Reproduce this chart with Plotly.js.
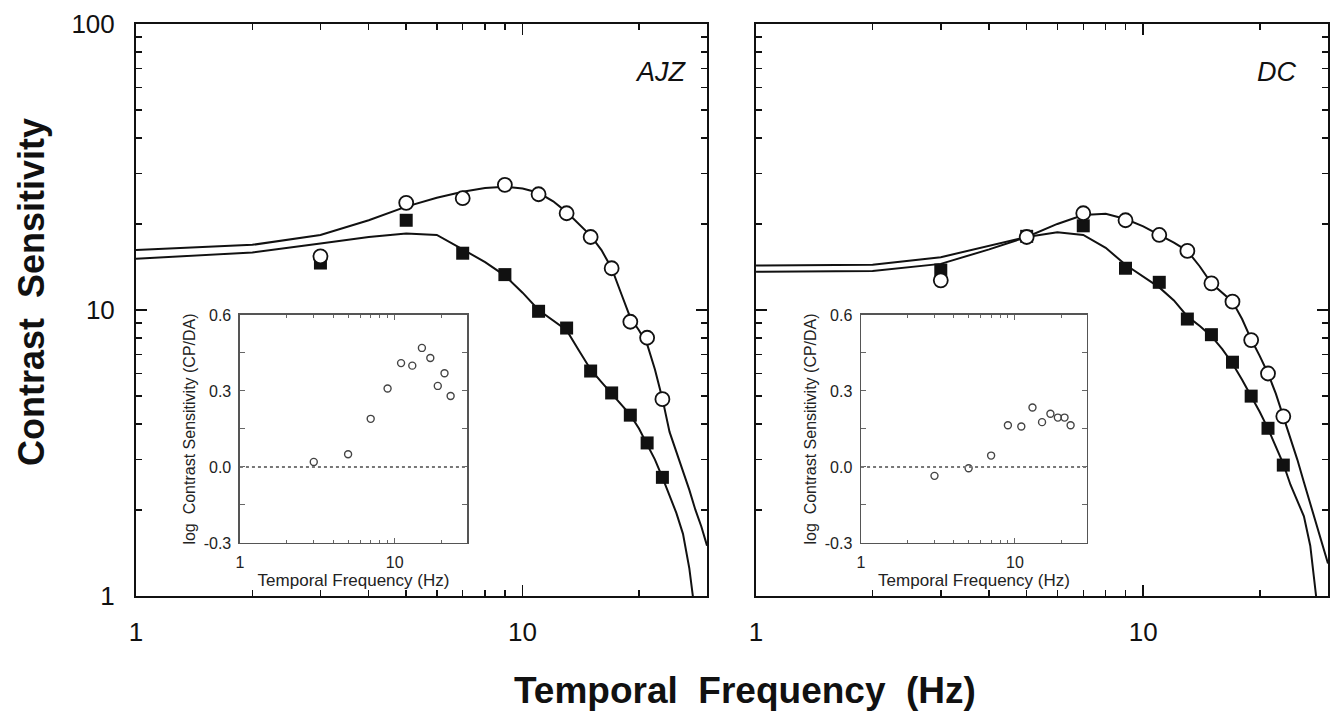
<!DOCTYPE html>
<html>
<head>
<meta charset="utf-8">
<script src="https://cdn.plot.ly/plotly-3.0.1.min.js"></script>
<style>html,body{margin:0;padding:0;background:#fff}</style>
</head>
<body>
<div id="chart" style="width:1336px;height:711px"></div>
<script>
// ---- data ----
const freqPts = [3, 5, 7, 9, 11, 13, 15, 17, 19, 21, 23];

const ajzCircles = [15.4, 23.7, 24.6, 27.4, 25.4, 21.8, 18.0, 14.0, 9.1, 8.0, 4.88];
const ajzSquares = [14.6, 20.6, 15.8, 13.3, 9.9, 8.65, 6.12, 5.13, 4.29, 3.43, 2.6];
const ajzInset   = [0.02, 0.05, 0.19, 0.31, 0.41, 0.40, 0.47, 0.43, 0.32, 0.37, 0.28];

const dcCircles = [12.7, 18.0, 21.8, 20.6, 18.3, 16.1, 12.4, 10.7, 7.85, 6.0, 4.25];
const dcSquares = [13.8, 18.1, 19.7, 14.0, 12.5, 9.3, 8.2, 6.57, 5.0, 3.86, 2.87];
const dcInset   = [-0.035, -0.005, 0.045, 0.165, 0.16, 0.235, 0.177, 0.21, 0.195, 0.195, 0.165];

const curveFreq = [1,2,3,4,5,6,7,8,9,10,11,12,13,14,15,16,17,18,19,20,21,22,23,24,25,26,27,28,29,30];
const ajzCircleFit = [16.2,16.9,18.3,20.6,23.0,24.7,25.9,26.7,27.0,26.6,25.7,24.0,22.0,20.0,18.2,16.2,14.0,11.4,9.4,8.5,7.6,6.2,4.9,3.75,3.2,2.7,2.35,2.0,1.75,1.5];
const ajzSquareFit = [15.1,15.9,17.1,18.0,18.5,18.3,16.3,14.7,13.2,11.5,10.0,9.2,8.5,7.2,6.2,5.6,5.1,4.7,4.3,3.85,3.4,3.0,2.6,2.25,1.95,1.65,1.25,0.85,0.55,0.35];
const dcCircleFit  = [14.3,14.4,15.3,16.8,18.0,20.0,21.5,21.7,20.8,19.6,18.3,17.2,16.1,14.2,12.4,11.5,10.7,9.3,7.9,6.9,6.0,5.1,4.25,3.6,3.0,2.5,2.1,1.8,1.5,1.3];
const dcSquareFit  = [13.6,13.7,14.5,16.3,18.0,18.7,18.3,16.5,14.4,13.1,12.0,10.8,9.5,8.8,8.1,7.3,6.5,5.7,5.0,4.4,3.85,3.35,2.9,2.45,2.15,1.9,1.5,1.02,0.65,0.4];

const panelNames = ['AJZ', 'DC'];
const mainXTicks = [1, 10];
const mainXTickText = ['1', '10'];
const mainYTicks = [1, 10, 100];
const mainYTickText = ['1', '10', '100'];
const minorXTicks = [2,3,4,5,6,7,8,9,20,30];
const minorYTicks = [2,3,4,5,6,7,8,9,20,30,40,50,60,70,80,90];
const insetYTicks = [-0.3, 0, 0.3, 0.6];
const insetYTickText = ['-0.3', '0.0', '0.3', '0.6'];
const insetYMinor = [-0.15, 0.15, 0.45];

const FONT = 'Arial, "Liberation Sans", Helvetica, sans-serif';

function curve(x, y, xa, ya) {
  return {x: x, y: y, xaxis: xa, yaxis: ya, mode: 'lines', type: 'scatter',
          line: {color: '#111', width: 2}, hoverinfo: 'skip'};
}
function squares(x, y, xa, ya) {
  return {x: x, y: y, xaxis: xa, yaxis: ya, mode: 'markers', type: 'scatter',
          marker: {symbol: 'square', size: 13, color: '#111', line: {width: 0}}};
}
function circles(x, y, xa, ya) {
  return {x: x, y: y, xaxis: xa, yaxis: ya, mode: 'markers', type: 'scatter',
          marker: {symbol: 'circle', size: 14, color: '#fff', line: {color: '#111', width: 1.8}}};
}
function insetPts(x, y, xa, ya) {
  return {x: x, y: y, xaxis: xa, yaxis: ya, mode: 'markers', type: 'scatter',
          marker: {symbol: 'circle', size: 7, color: 'rgba(0,0,0,0)', line: {color: '#444', width: 1.4}}};
}

const data = [
  curve(curveFreq, ajzCircleFit, 'x', 'y'),
  curve(curveFreq, ajzSquareFit, 'x', 'y'),
  squares(freqPts, ajzSquares, 'x', 'y'),
  circles(freqPts, ajzCircles, 'x', 'y'),
  curve(curveFreq, dcCircleFit, 'x2', 'y2'),
  curve(curveFreq, dcSquareFit, 'x2', 'y2'),
  squares(freqPts, dcSquares, 'x2', 'y2'),
  circles(freqPts, dcCircles, 'x2', 'y2'),
  insetPts(freqPts, ajzInset, 'x3', 'y3'),
  insetPts(freqPts, dcInset, 'x4', 'y4')
];

function mainX(domain, anchor) {
  return {type: 'log', domain: domain, anchor: anchor, range: [0, Math.log10(30)],
    tickmode: 'array', tickvals: mainXTicks, ticktext: mainXTickText,
    ticks: 'inside', ticklen: 11, tickwidth: 1.5, tickcolor: '#111',
    showline: true, linewidth: 2, linecolor: '#111', mirror: 'ticks',
    showgrid: false, zeroline: false, ticklabelstandoff: 12,
    tickfont: {family: FONT, size: 26, color: '#111'},
    minor: {tickmode: 'array', tickvals: minorXTicks, ticks: 'inside', ticklen: 6, tickwidth: 1.5, tickcolor: '#111', showgrid: false}};
}
function mainY(domain, anchor, showLabels) {
  return {type: 'log', domain: domain, anchor: anchor, range: [0, 2],
    tickmode: 'array', tickvals: mainYTicks, ticktext: mainYTickText,
    showticklabels: showLabels,
    ticks: 'inside', ticklen: 11, tickwidth: 1.5, tickcolor: '#111',
    showline: true, linewidth: 2, linecolor: '#111', mirror: 'ticks',
    showgrid: false, zeroline: false, ticklabelstandoff: 14,
    tickfont: {family: FONT, size: 26, color: '#111'},
    minor: {tickmode: 'array', tickvals: minorYTicks, ticks: 'inside', ticklen: 6, tickwidth: 1.5, tickcolor: '#111', showgrid: false}};
}
function insetX(domain, anchor) {
  return {type: 'log', domain: domain, anchor: anchor, range: [0, 1.468],
    tickmode: 'array', tickvals: mainXTicks, ticktext: mainXTickText,
    ticks: 'inside', ticklen: 5, tickwidth: 1, tickcolor: '#666',
    showline: true, linewidth: 1.5, linecolor: '#555', mirror: 'ticks',
    showgrid: false, zeroline: false, ticklabelstandoff: 4,
    tickfont: {family: FONT, size: 16, color: '#222'},
    title: {text: 'Temporal Frequency (Hz)', standoff: 2, font: {family: FONT, size: 17, color: '#222'}},
    minor: {tickmode: 'array', tickvals: minorXTicks, ticks: 'inside', ticklen: 3, tickwidth: 1, tickcolor: '#666', showgrid: false}};
}
function insetY(domain, anchor) {
  return {type: 'linear', domain: domain, anchor: anchor, range: [-0.3, 0.6],
    tickmode: 'array', tickvals: insetYTicks, ticktext: insetYTickText,
    ticks: 'inside', ticklen: 5, tickwidth: 1, tickcolor: '#666',
    showline: true, linewidth: 1.5, linecolor: '#555', mirror: 'ticks',
    showgrid: false, zeroline: false, ticklabelstandoff: 4,
    tickfont: {family: FONT, size: 16, color: '#222'},
    title: {text: 'log  Contrast Sensitivity (CP/DA)', standoff: 4, font: {family: FONT, size: 16, color: '#222'}},
    minor: {tickmode: 'array', tickvals: insetYMinor, ticks: 'inside', ticklen: 5, tickwidth: 1, tickcolor: '#666', showgrid: false}};
}

const yDom = [0.1617, 0.9662];
const insetYDom = [0.2363, 0.557];

const layout = {
  width: 1336, height: 711,
  margin: {l: 0, r: 0, t: 0, b: 0},
  paper_bgcolor: '#fff', plot_bgcolor: '#fff',
  showlegend: false,
  font: {family: FONT, color: '#111'},
  xaxis: mainX([0.1018, 0.5292], 'y'),
  yaxis: mainY(yDom, 'x', true),
  xaxis2: mainX([0.5659, 0.994], 'y2'),
  yaxis2: mainY(yDom, 'x2', false),
  xaxis3: insetX([0.1796, 0.3496], 'y3'),
  yaxis3: insetY(insetYDom, 'x3'),
  xaxis4: insetX([0.6445, 0.8136], 'y4'),
  yaxis4: insetY(insetYDom, 'x4'),
  shapes: [
    {type: 'line', xref: 'x3 domain', yref: 'y3', x0: 0, x1: 1, y0: 0, y1: 0, line: {color: '#777', width: 2, dash: 'dot'}},
    {type: 'line', xref: 'x4 domain', yref: 'y4', x0: 0, x1: 1, y0: 0, y1: 0, line: {color: '#777', width: 2, dash: 'dot'}}
  ],
  annotations: [
    {text: '<b>Contrast  Sensitivity</b>', xref: 'paper', yref: 'paper', x: 32/1336, y: 1 - 292/711,
     textangle: -90, showarrow: false, xanchor: 'center', yanchor: 'middle', font: {family: FONT, size: 36, color: '#111'}},
    {text: '<b>Temporal  Frequency  (Hz)</b>', xref: 'paper', yref: 'paper', x: 745/1336, y: 1 - 690/711,
     showarrow: false, xanchor: 'center', yanchor: 'middle', font: {family: FONT, size: 37, color: '#111'}},
    {text: '<i>' + panelNames[0] + '</i>', xref: 'paper', yref: 'paper', x: 661/1336, y: 1 - 72/711,
     showarrow: false, xanchor: 'center', yanchor: 'middle', font: {family: FONT, size: 27, color: '#111'}},
    {text: '<i>' + panelNames[1] + '</i>', xref: 'paper', yref: 'paper', x: 1276/1336, y: 1 - 72/711,
     showarrow: false, xanchor: 'center', yanchor: 'middle', font: {family: FONT, size: 27, color: '#111'}}
  ]
};

Plotly.newPlot('chart', data, layout, {staticPlot: true, displayModeBar: false});
</script>
</body>
</html>
